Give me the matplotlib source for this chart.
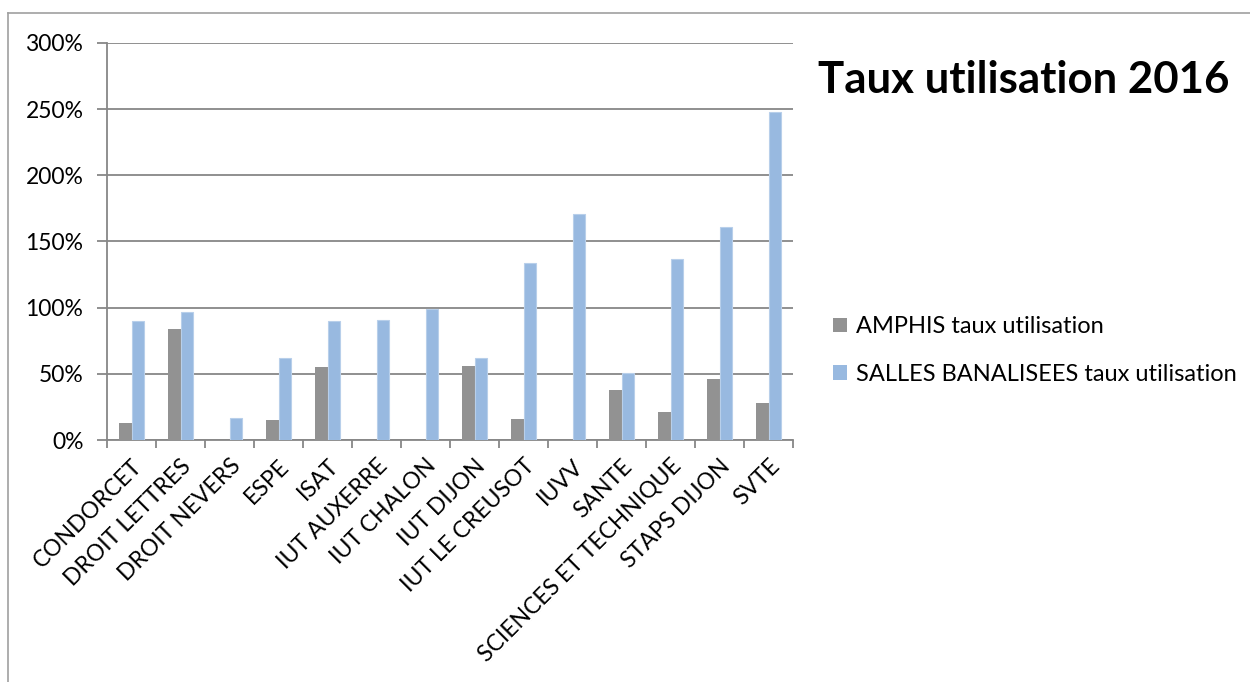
import matplotlib
matplotlib.use("Agg")
import matplotlib.pyplot as plt
from matplotlib.lines import Line2D
from matplotlib.patches import Patch
from matplotlib.ticker import FuncFormatter
import numpy as np

categories = ["CONDORCET", "DROIT LETTRES", "DROIT NEVERS", "ESPE", "ISAT",
              "IUT AUXERRE", "IUT CHALON", "IUT DIJON", "IUT LE CREUSOT", "IUVV",
              "SANTE", "SCIENCES ET TECHNIQUE", "STAPS DIJON", "SVTE"]
amphis = [0.13, 0.84, 0.0, 0.15, 0.55, 0.0, 0.0, 0.56, 0.16, 0.0, 0.38, 0.21, 0.46, 0.28]
salles = [0.90, 0.97, 0.17, 0.62, 0.90, 0.905, 0.99, 0.62, 1.34, 1.71, 0.51, 1.37, 1.61, 2.48]
series_names = ["AMPHIS taux utilisation", "SALLES BANALISEES taux utilisation"]
title = "Taux utilisation 2016"
yticks = [0, 0.5, 1.0, 1.5, 2.0, 2.5, 3.0]

plt.rcParams['font.family'] = ['Lato', 'DejaVu Sans']

gray = "#929292"
blue = "#98B9E0"
gridc = "#878787"

fig = plt.figure(figsize=(12.5, 6.82), dpi=100)
ax = fig.add_axes([0.0856, 0.3548, 0.5488, 0.5822])

x = np.arange(len(categories))
w = 0.265
ax.bar(x - w/2, amphis, w, color=gray, edgecolor="none", zorder=3)
ax.bar(x + w/2, salles, w, color=blue, edgecolor="#B8CFEA", linewidth=0.8, zorder=3)

ax.set_xlim(-0.5, len(categories) - 0.5)
ax.set_ylim(0, 3.0)
ax.set_yticks(yticks)
ax.yaxis.set_major_formatter(FuncFormatter(lambda v, p: f"{int(round(v*100))}%"))
ax.yaxis.grid(True, color=gridc, linewidth=1.3, zorder=0)
ax.set_axisbelow(True)

ax.set_xticks(x)
ax.set_xticklabels(categories, rotation=45, ha="right", rotation_mode="anchor", fontsize=16.5)
ax.tick_params(axis="x", length=0, pad=11)
ax.set_xticks(np.arange(len(categories) + 1) - 0.5, minor=True)
ax.tick_params(axis="x", which="minor", length=6, color=gridc, width=1.3)
ax.tick_params(axis="y", length=7, color=gridc, width=1.3, pad=10, labelsize=16.5)

for s in ["top", "right"]:
    ax.spines[s].set_visible(False)
for s in ["left", "bottom"]:
    ax.spines[s].set_color(gridc)
    ax.spines[s].set_linewidth(1.3)

fig.text(0.6544, 0.882, title, fontsize=31.5, fontweight="bold", ha="left", va="center")

handles = [Patch(facecolor=gray, edgecolor="none"), Patch(facecolor=blue, edgecolor="none")]
fig.legend(handles, series_names, loc="center left", bbox_to_anchor=(0.649, 0.486),
           frameon=False, fontsize=17, handlelength=0.6, handleheight=0.6,
           handletextpad=0.4, labelspacing=1.12)

# chart frame (left and top border)
fig.add_artist(Line2D([0.0066, 0.0066], [0.0, 0.981], color="#A0A0A0", linewidth=1.2,
                      transform=fig.transFigure))
fig.add_artist(Line2D([0.0066, 1.0], [0.981, 0.981], color="#A0A0A0", linewidth=1.2,
                      transform=fig.transFigure))

fig.savefig("out.png", dpi=100, facecolor="white")
